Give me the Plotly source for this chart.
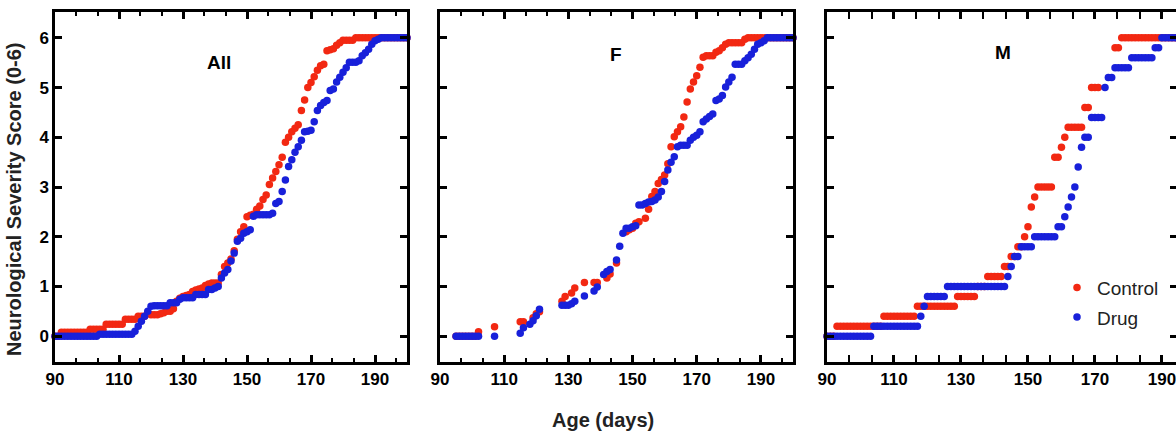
import plotly.graph_objects as go

FONT = "Liberation Sans, Arial, sans-serif"
RED = "rgb(242,40,18)"
BLUE = "rgb(24,32,218)"

# ---- All animals: mean score per day, 90..200 ----
all_days = list(range(90, 201))
all_control = (
    [0, 0]
    + [0.08] * 9
    + [0.14] * 5
    + [0.24] * 6
    + [0.34] * 4
    + [0.4] * 3
    + [0.47]
    + [0.43, 0.43, 0.43, 0.45, 0.47, 0.5, 0.5, 0.55]
    + [0.7, 0.76, 0.8, 0.82, 0.84, 0.9, 0.93, 0.95, 0.97, 1.02, 1.05, 1.07, 1.07, 1.07]
    + [1.24, 1.4, 1.47, 1.55, 1.72, 1.95, 2.1, 2.2, 2.4, 2.43, 2.45, 2.55, 2.62, 2.75,
       2.84, 3.05, 3.18, 3.31, 3.45, 3.6, 3.9, 4.0, 4.11, 4.18, 4.25, 4.54, 4.75, 5.0,
       5.1, 5.22, 5.35, 5.44, 5.47, 5.74, 5.76, 5.78, 5.85, 5.9]
    + [5.95] * 4
    + [6.0] * 17
)
all_drug = (
    [0] * 14
    + [0.04] * 11
    + [0.1, 0.2, 0.3, 0.4, 0.5, 0.6]
    + [0.61] * 5
    + [0.67] * 3
    + [0.74]
    + [0.77] * 4
    + [0.84] * 4
    + [0.94] * 2
    + [0.97, 1.0, 1.17, 1.27, 1.34, 1.51, 1.67, 1.91, 1.97, 2.07, 2.1, 2.14, 2.41]
    + [2.44] * 5
    + [2.47, 2.67, 2.71, 2.91, 3.14, 3.41, 3.55, 3.7, 3.81, 3.94, 4.11, 4.12, 4.14,
       4.31, 4.54, 4.64, 4.7, 4.74, 4.94, 4.97, 5.11, 5.21, 5.31, 5.4]
    + [5.51] * 3
    + [5.54, 5.64, 5.7, 5.77, 5.87, 5.94, 5.97]
    + [6.0] * 9
)

# ---- Females ----
f_control_days = (
    [95, 96, 97, 98, 99, 100, 101, 102, 107, 115, 116, 119, 120, 121,
     128, 129, 131, 132, 135, 138, 139, 142, 143, 145, 148, 149, 150, 151, 152]
    + list(range(154, 201))
)
f_control = (
    [0] * 7
    + [0.09, 0.19, 0.29, 0.29, 0.37, 0.45, 0.49, 0.7, 0.8, 0.87, 0.97, 1.08, 1.08, 1.08,
       1.17, 1.25, 1.47, 2.1, 2.14, 2.17, 2.27, 2.3]
    + [2.37, 2.55, 2.81, 2.91, 3.07, 3.15, 3.24, 3.47, 3.81, 4.01, 4.11, 4.21, 4.41, 4.71,
       4.97, 5.11, 5.24, 5.41, 5.61, 5.64, 5.64, 5.64, 5.71, 5.74, 5.8, 5.87]
    + [5.9] * 5
    + [5.97]
    + [6.0] * 15
)
f_drug_days = (
    [95, 96, 97, 98, 99, 100, 101, 102, 107, 115, 116, 118, 119, 120, 121,
     128, 129, 130, 131, 132, 135, 138, 139, 141, 142, 143]
    + list(range(145, 201))
)
f_drug = (
    [0] * 8
    + [0, 0.06, 0.17, 0.24, 0.31, 0.41, 0.54, 0.62, 0.62, 0.62, 0.65, 0.7, 0.81, 0.91,
       0.99, 1.24, 1.3, 1.34]
    + [1.53, 1.81, 2.07, 2.17, 2.17, 2.2, 2.22, 2.64, 2.64, 2.67, 2.7, 2.71, 2.74, 2.8,
       2.91, 3.11, 3.34, 3.5, 3.61, 3.81, 3.84, 3.84, 3.84, 3.94, 4.0, 4.04, 4.11, 4.31,
       4.37, 4.42, 4.47, 4.74, 4.77, 4.84, 5.01, 5.11, 5.21, 5.47, 5.47, 5.47, 5.54, 5.6,
       5.67, 5.77, 5.87, 5.9, 5.94]
    + [6.0] * 9
)

# ---- Males ----
m_control_days = list(range(90, 172)) + list(range(176, 201))
m_control = (
    [0] * 3 + [0.2] * 14 + [0.4] * 10 + [0.6] * 12 + [0.8] * 6 + [1.0] * 3
    + [1.2] * 5 + [1.4] * 2 + [1.6] * 2 + [1.8] * 2 + [2.0, 2.2, 2.6, 2.8]
    + [3.0] * 5 + [3.6] * 2 + [3.8, 4.0] + [4.2] * 5 + [4.6] * 2 + [5.0] * 3
    + [5.8] * 2 + [6.0] * 23
)
m_drug_days = list(range(90, 201))
m_drug = (
    [0] * 14 + [0.2] * 14 + [0.4, 0.6] + [0.8] * 6 + [1.0] * 18 + [1.2, 1.4]
    + [1.6] * 2 + [1.8] * 4 + [2.0] * 7 + [2.2] * 2 + [2.4, 2.6, 2.8, 3.0, 3.4, 3.8]
    + [4.0] * 2 + [4.4] * 4 + [5.0] + [5.2] * 2 + [5.4] * 5 + [5.6] * 7 + [5.8] * 2
    + [6.0] * 11
)

panels = [
    ("All", all_days, all_control, all_days, all_drug),
    ("F", f_control_days, f_control, f_drug_days, f_drug),
    ("M", m_control_days, m_control, m_drug_days, m_drug),
]
title_pos = [(141.2, 5.51), (144.7, 5.67), (142.4, 5.71)]

W, H = 1176, 434
x_domains = [(55 / W, 407 / W), (440 / W, 793 / W), (827 / W, 1.0)]
x_ranges = [[90, 200], [90, 200], [90, 194.2]]
y_range = [-0.52, 6.52]

fig = go.Figure()
for i, (name, cd, cv, dd, dv) in enumerate(panels):
    xa = "x" if i == 0 else f"x{i + 1}"
    ya = "y" if i == 0 else f"y{i + 1}"
    show = i == 2
    fig.add_trace(go.Scatter(
        x=cd, y=cv, mode="markers", name="Control", xaxis=xa, yaxis=ya,
        marker=dict(color=RED, size=7.5), showlegend=show, legendgroup="c",
        cliponaxis=False,
    ))
    fig.add_trace(go.Scatter(
        x=dd, y=dv, mode="markers", name="Drug", xaxis=xa, yaxis=ya,
        marker=dict(color=BLUE, size=7.5), showlegend=show, legendgroup="d",
        cliponaxis=False,
    ))

tickfont = dict(family=FONT, size=17, color="black", weight="bold")
layout = dict(
    width=W, height=H,
    margin=dict(l=0, r=0, t=12, b=72, autoexpand=False),
    paper_bgcolor="white", plot_bgcolor="white",
    font=dict(family=FONT, color="black"),
    legend=dict(
        x=1057 / W, y=0.267, xanchor="left", yanchor="top",
        font=dict(family=FONT, size=19, color="#222"),
        bgcolor="rgba(0,0,0,0)", tracegroupgap=2,
    ),
)
for i in range(3):
    sx = "" if i == 0 else str(i + 1)
    layout[f"xaxis{sx}"] = dict(
        domain=list(x_domains[i]), range=x_ranges[i], anchor=f"y{sx}",
        tickmode="linear", tick0=90, dtick=20,
        ticks="inside", ticklen=7, tickwidth=2.5, tickcolor="black",
        showline=True, linewidth=2.5, linecolor="black", mirror="allticks",
        showgrid=False, zeroline=False, tickfont=tickfont,
        ticklabeloverflow="allow", automargin=False,
        minor=dict(tick0=90, dtick=20 / 3, ticks="inside", ticklen=4,
                   tickwidth=2, tickcolor="black", showgrid=False),
    )
    layout[f"yaxis{sx}"] = dict(
        domain=[0, 1], range=y_range, anchor=f"x{sx}",
        tickmode="linear", tick0=0, dtick=1,
        ticks="inside", ticklen=7, tickwidth=2.5, tickcolor="black",
        showline=True, linewidth=2.5, linecolor="black",
        mirror="allticks" if i < 2 else False,
        showgrid=False, zeroline=False, tickfont=tickfont,
        showticklabels=(i == 0), automargin=False,
    )
# right-hand ticks of the last panel (its frame runs off the page edge)
layout["yaxis4"] = dict(
    overlaying="y3", anchor="x3", side="right", range=y_range,
    tickmode="linear", tick0=0, dtick=1, ticks="inside", ticklen=6,
    tickwidth=2.5, tickcolor="black", showline=False, showgrid=False,
    zeroline=False, showticklabels=False, automargin=False,
)
fig.add_trace(go.Scatter(x=[], y=[], xaxis="x3", yaxis="y4", showlegend=False))

annotations = []
for i, (name, *_rest) in enumerate(panels):
    sx = "" if i == 0 else str(i + 1)
    annotations.append(dict(
        text=name, x=title_pos[i][0], y=title_pos[i][1], xref=f"x{sx}", yref=f"y{sx}",
        showarrow=False, font=dict(family=FONT, size=19, color="black", weight="bold"),
    ))
annotations.append(dict(
    text="Neurological Severity Score (0-6)", x=14 / W, y=(362 - 200) / 350,
    xref="paper", yref="paper", xanchor="center", yanchor="middle",
    textangle=-90, showarrow=False,
    font=dict(family=FONT, size=20, color="#222", weight="bold"),
))
annotations.append(dict(
    text="Age (days)", x=603 / W, y=(362 - 420) / 350, xref="paper", yref="paper",
    xanchor="center", yanchor="middle", showarrow=False,
    font=dict(family=FONT, size=20, color="#222", weight="bold"),
))
layout["annotations"] = annotations
fig.update_layout(**layout)

fig.write_html("out.html")
